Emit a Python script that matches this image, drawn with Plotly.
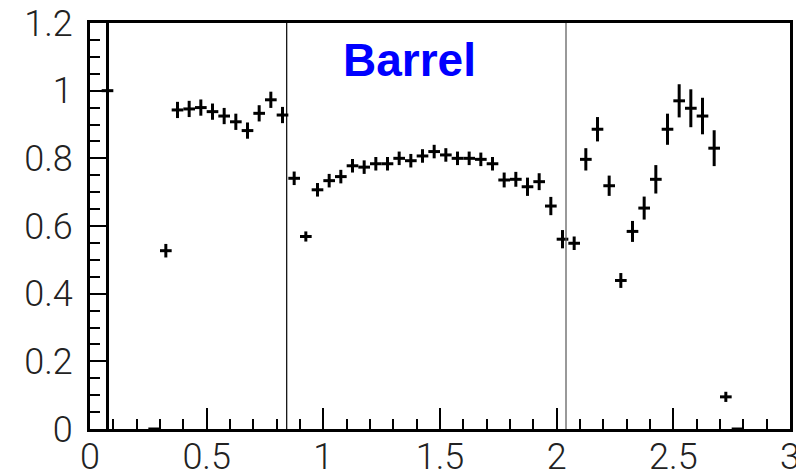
import plotly.graph_objects as go

eta = [0.075, 0.275, 0.325, 0.375, 0.425, 0.475, 0.525, 0.575, 0.625, 0.675, 0.725, 0.775, 0.825,
       0.875, 0.925, 0.975, 1.025, 1.075, 1.125, 1.175, 1.225, 1.275, 1.325, 1.375, 1.425,
       1.475, 1.525, 1.575, 1.625, 1.675, 1.725, 1.775, 1.825, 1.875, 1.925, 1.975, 2.025, 2.075,
       2.125, 2.175, 2.225, 2.275, 2.325, 2.375, 2.425, 2.475, 2.525, 2.575, 2.625, 2.675,
       2.725, 2.775]
eff = [1.0, 0.0, 0.527, 0.943, 0.946, 0.950, 0.938, 0.925, 0.908, 0.882, 0.933, 0.973, 0.928,
       0.741, 0.569, 0.707, 0.734, 0.746, 0.778, 0.774, 0.784, 0.784, 0.800, 0.793, 0.807,
       0.820, 0.810, 0.800, 0.800, 0.797, 0.784, 0.736, 0.738, 0.716, 0.731, 0.659, 0.561, 0.549,
       0.797, 0.886, 0.719, 0.439, 0.584, 0.653, 0.738, 0.886, 0.970, 0.948, 0.925, 0.830,
       0.095, 0.0]
eff_err = [1.5, 0.0, 0.02, 0.024, 0.024, 0.024, 0.024, 0.024, 0.024, 0.024, 0.024, 0.024, 0.024,
           0.02, 0.015, 0.02, 0.02, 0.02, 0.02, 0.02, 0.02, 0.02, 0.02, 0.02, 0.02,
           0.02, 0.02, 0.02, 0.02, 0.02, 0.02, 0.022, 0.022, 0.027, 0.025, 0.027, 0.027, 0.02,
           0.033, 0.036, 0.03, 0.022, 0.031, 0.034, 0.042, 0.046, 0.049, 0.056, 0.054, 0.053,
           0.015, 0.0]
bin_half_width = 0.025
boundaries = [0.843, 2.04]
label_text = "Barrel"
label_pos = (1.371, 1.092)

tick_font = dict(family="Roboto", size=36, color="#222222", weight=300)

fig = go.Figure()
fig.add_trace(go.Scatter(
    x=eta, y=eff, mode="markers",
    marker=dict(size=2, color="black"),
    error_y=dict(type="data", array=eff_err, color="black", thickness=3, width=0),
    error_x=dict(type="constant", value=bin_half_width, color="black", thickness=3, width=0),
    showlegend=False,
))

for i, b in enumerate(boundaries):
    fig.add_shape(type="line", xref="x", yref="paper", x0=b, x1=b, y0=0, y1=1,
                  line=dict(color="black" if i == 0 else "#555555", width=1.2))

fig.add_annotation(x=label_pos[0], y=label_pos[1], text=label_text, showarrow=False,
                   font=dict(family="Liberation Sans, Arial", size=46, color="#0000ff", weight="bold"),
                   xanchor="center", yanchor="middle")

fig.update_xaxes(range=[0, 3], dtick=0.5, tick0=0, ticks="inside", ticklen=21, tickwidth=2,
                 tickcolor="black", showline=True, linewidth=3, linecolor="black", mirror=True,
                 showgrid=False, zeroline=False, tickfont=tick_font, ticklabelstandoff=-6,
                 automargin=False, ticklabeloverflow="allow",
                 minor=dict(dtick=0.1, ticks="inside", ticklen=10, tickwidth=2, tickcolor="black",
                            showgrid=False))
fig.update_yaxes(range=[0, 1.2], dtick=0.2, tick0=0, ticks="inside", ticklen=17, tickwidth=2,
                 tickcolor="black", showline=True, linewidth=3, linecolor="black", mirror=True,
                 showgrid=False, zeroline=False, tickfont=tick_font, ticklabelstandoff=7,
                 automargin=False, ticklabeloverflow="allow",
                 minor=dict(dtick=0.05, ticks="inside", ticklen=10, tickwidth=2, tickcolor="black",
                            showgrid=False))

fig.update_layout(width=796, height=476, margin=dict(l=90, r=6, t=23, b=47),
                  plot_bgcolor="white", paper_bgcolor="white")
fig.write_html("out.html")
